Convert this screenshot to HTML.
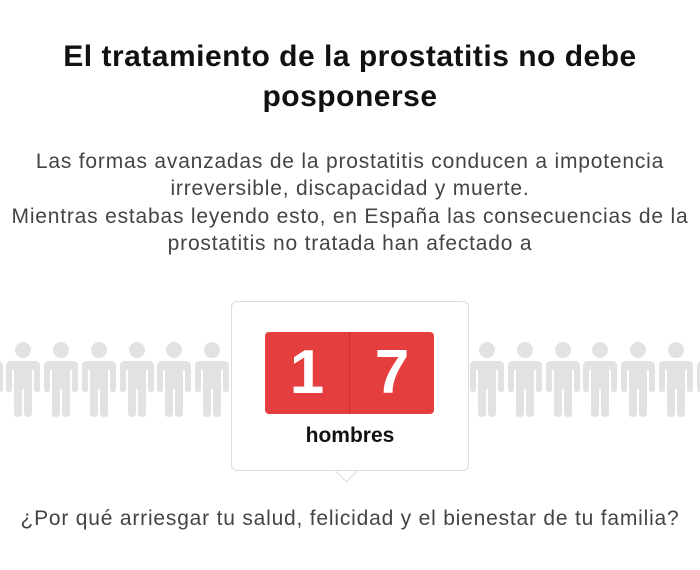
<!DOCTYPE html>
<html><head><style>
body{margin:0;width:700px;height:570px;background:#fff;font-family:"Liberation Sans",sans-serif;position:relative;overflow:hidden}
.t{position:absolute;left:-20px;width:740px;text-align:center}
h1{position:absolute;left:-20px;top:37px;width:740px;margin:0;text-align:center;font-size:30px;letter-spacing:0.5px;line-height:40px;color:#111;font-weight:bold}
.p{top:148px;font-size:21px;letter-spacing:0.8px;line-height:27.3px;color:#444}
.q{top:507px;font-size:21px;letter-spacing:0.8px;color:#444}
.box{position:absolute;left:231px;top:301px;width:236px;height:168px;border:1.5px solid #ddd;border-radius:6px;background:#fff}
.ptr{position:absolute;left:338px;top:462px;width:16px;height:16px;background:#fff;border-right:1.5px solid #ddd;border-bottom:1.5px solid #ddd;transform:rotate(45deg)}
.d{position:absolute;top:332px;height:82px;width:84px;background:#e53e3e;color:#fff;font-size:62px;font-weight:bold;text-align:center;line-height:82px}
</style></head><body>
<h1>El tratamiento de la prostatitis no debe<br>posponerse</h1>
<div class="t p">Las formas avanzadas de la prostatitis conducen a impotencia<br>irreversible, discapacidad y muerte.<br>Mientras estabas leyendo esto, en España las consecuencias de la<br>prostatitis no tratada han afectado a</div>
<svg width="700" height="570" style="position:absolute;left:0;top:0">
<defs><g id="m" fill="#e2e2e2">
<circle cx="0" cy="-27" r="8"/>
<path d="M-12,-16 H12 Q17,-16 17,-11 V12 Q17,15 14,15 Q11,15 11,12 V-7 H9 V36 Q9,40 5,40 Q1,40 1,36 V12 H-1 V36 Q-1,40 -5,40 Q-9,40 -9,36 V-7 H-11 V12 Q-11,15 -14,15 Q-17,15 -17,12 V-11 Q-17,-16 -12,-16 Z"/>
</g></defs>
<g transform="translate(0,377)">
<use href="#m" x="-14"/><use href="#m" x="23"/><use href="#m" x="61"/><use href="#m" x="99"/><use href="#m" x="137"/><use href="#m" x="174"/><use href="#m" x="212"/>
<use href="#m" x="487"/><use href="#m" x="525"/><use href="#m" x="563"/><use href="#m" x="600"/><use href="#m" x="638"/><use href="#m" x="676"/><use href="#m" x="714"/>
</g></svg>
<div class="ptr"></div>
<div class="box"></div>
<div class="d" style="left:265px;border-radius:4px 0 0 4px">1</div>
<div class="d" style="left:350px;border-radius:0 4px 4px 0">7</div>
<div style="position:absolute;left:349px;top:332px;width:1px;height:82px;background:#c53030"></div>
<div class="t" style="top:424px;font-size:21px;font-weight:bold;color:#111">hombres</div>
<div class="t q">¿Por qué arriesgar tu salud, felicidad y el bienestar de tu familia?</div>
</body></html>
